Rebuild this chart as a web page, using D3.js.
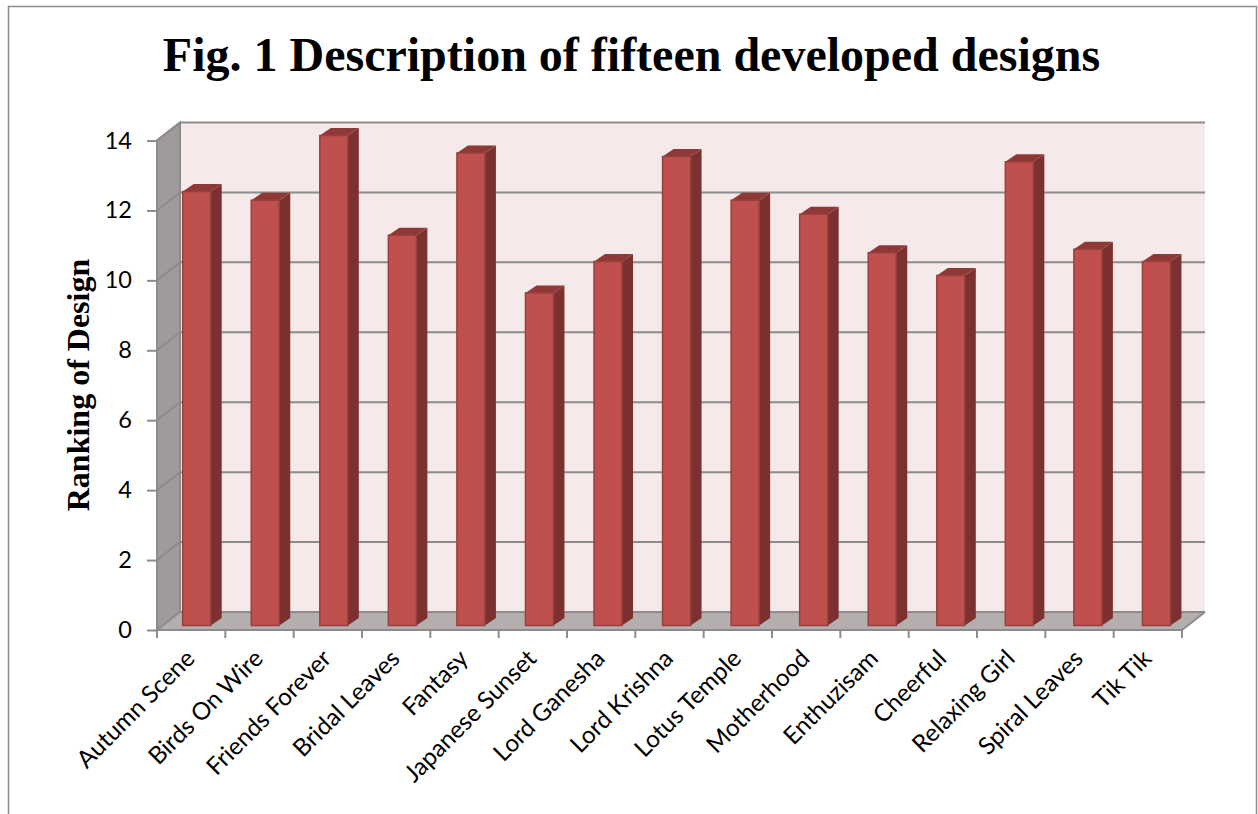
<!DOCTYPE html>
<html>
<head>
<meta charset="utf-8">
<script src="https://cdn.jsdelivr.net/npm/d3@7/dist/d3.min.js"></script>
<style>
  html, body { margin: 0; padding: 0; background: #fff; overflow: hidden; }
  svg { display: block; }
</style>
</head>
<body>
<svg class="drawSpace" width="1258" height="814"></svg>
<script>
const categories = ['Autumn Scene', 'Birds On Wire', 'Friends Forever', 'Bridal Leaves', 'Fantasy',
  'Japanese Sunset', 'Lord Ganesha', 'Lord Krishna', 'Lotus Temple', 'Motherhood',
  'Enthuzisam', 'Cheerful', 'Relaxing Girl', 'Spiral Leaves', 'Tik Tik'];
const rankings = [12.4, 12.15, 14.0, 11.15, 13.5, 9.5, 10.4, 13.4, 12.15, 11.75, 10.65, 10.0, 13.25, 10.75, 10.4];
const yTicks = [0, 2, 4, 6, 8, 10, 12, 14];

const svg = d3.select('.drawSpace');

// outer frame
svg.append('path')
  .attr('d', 'M8.5,814V6.5H1256.5V814')
  .attr('fill', 'none')
  .attr('stroke', '#8c8c8c')
  .attr('stroke-width', 1.5);

svg.append('text')
  .attr('x', 631.5)
  .attr('y', 71)
  .attr('text-anchor', 'middle')
  .style('font', 'bold 48px "Liberation Serif"')
  .attr('fill', '#000')
  .text('Fig. 1 Description of fifteen developed designs');

// front plane scales, the walls are shifted back by depth
const x = d3.scaleBand().domain(categories).range([157, 1182]);
const y = d3.scaleLinear().domain([0, 14]).range([630, 140.5]);
const xBar = d3.scaleBand().domain(categories).range([182.7, 1211]);
const yBar = d3.scaleLinear().domain([0, 14]).range([625.5, 135.5]);
const depth = { x: 23, y: -18 };
const barDepth = { x: 11, y: -7.5 };
const barWidth = 28;

const wall = svg.append('g');
// back wall
wall.append('rect')
  .attr('x', x.range()[0] + depth.x)
  .attr('y', y(14) + depth.y)
  .attr('width', x.range()[1] - x.range()[0])
  .attr('height', y(0) - y(14))
  .attr('fill', '#f5e9e9');
// side wall
wall.append('path')
  .attr('d', d3.line()([
    [157, y(0)], [157, y(14)],
    [157 + depth.x, y(14) + depth.y], [157 + depth.x, y(0) + depth.y]
  ]) + 'Z')
  .attr('fill', '#a09a9a')
  .attr('stroke', '#8c8c8c')
  .attr('stroke-width', 2);
// floor
wall.append('path')
  .attr('d', d3.line()([
    [157, y(0)], [1182, y(0)],
    [1182 + depth.x, y(0) + depth.y], [157 + depth.x, y(0) + depth.y]
  ]) + 'Z')
  .attr('fill', '#b5aeae');

// grid lines on side wall and back wall
const grid = svg.append('g')
  .attr('fill', 'none')
  .attr('stroke', '#8c8c8c')
  .attr('stroke-width', 2);
yTicks.forEach((t) => {
  grid.append('path')
    .attr('d', d3.line()([
      [157, y(t)], [157 + depth.x, y(t) + depth.y], [1182 + depth.x, y(t) + depth.y]
    ]));
});
grid.append('path')
  .attr('d', d3.line()([[157, y(0)], [1182, y(0)], [1182 + depth.x, y(0) + depth.y]]));

// axes
const yAxis = svg.append('g')
  .attr('transform', 'translate(157,0)')
  .call(d3.axisLeft(y).tickValues(yTicks).tickSize(10).tickPadding(15).tickFormat(d3.format('d')));
yAxis.select('.domain').remove();
yAxis.selectAll('line').attr('stroke', '#8c8c8c').attr('stroke-width', 2);
yAxis.selectAll('text')
  .attr('fill', '#000')
  .style('font', '23.5px Lato, Carlito, sans-serif');

const xAxis = svg.append('g').attr('transform', `translate(0,${y(0)})`);
xAxis.selectAll('line')
  .data(categories.concat(['end']))
  .enter()
  .append('line')
  .attr('x1', (d, i) => 157 + i * x.step())
  .attr('x2', (d, i) => 157 + i * x.step())
  .attr('y1', 0)
  .attr('y2', 8)
  .attr('stroke', '#8c8c8c')
  .attr('stroke-width', 2);
xAxis.selectAll('text')
  .data(categories)
  .enter()
  .append('text')
  .attr('text-anchor', 'end')
  .attr('transform', (d) => `translate(${x(d) + x.step() / 2 + 5},${30}) rotate(-45)`)
  .attr('fill', '#000')
  .style('font', '24.2px Lato, Carlito, sans-serif')
  .text((d) => d);

svg.append('text')
  .attr('transform', 'translate(89,385) rotate(-90)')
  .attr('text-anchor', 'middle')
  .style('font', 'bold 32px "Liberation Serif"')
  .attr('fill', '#000')
  .text('Ranking of Design');

// bars
const bars = svg.selectAll('.bar')
  .data(categories.map((name, i) => ({ name, value: rankings[i] })))
  .enter()
  .append('g')
  .attr('class', 'bar')
  .attr('transform', (d) => `translate(${xBar(d.name)},0)`);

bars.append('path')
  .attr('d', (d) => d3.line()([
    [barWidth, yBar(d.value)], [barWidth + barDepth.x, yBar(d.value) + barDepth.y],
    [barWidth + barDepth.x, yBar(0) + barDepth.y], [barWidth, yBar(0)]
  ]) + 'Z')
  .attr('fill', '#7c3030');
bars.append('path')
  .attr('d', (d) => d3.line()([
    [0, yBar(d.value)], [barDepth.x, yBar(d.value) + barDepth.y],
    [barWidth + barDepth.x, yBar(d.value) + barDepth.y], [barWidth, yBar(d.value)]
  ]) + 'Z')
  .attr('fill', '#8f3838');
bars.append('rect')
  .attr('y', (d) => yBar(d.value))
  .attr('width', barWidth)
  .attr('height', (d) => yBar(0) - yBar(d.value))
  .attr('fill', '#c0504d')
  .attr('stroke', '#98403e')
  .attr('stroke-width', 1.5);
</script>
</body>
</html>
